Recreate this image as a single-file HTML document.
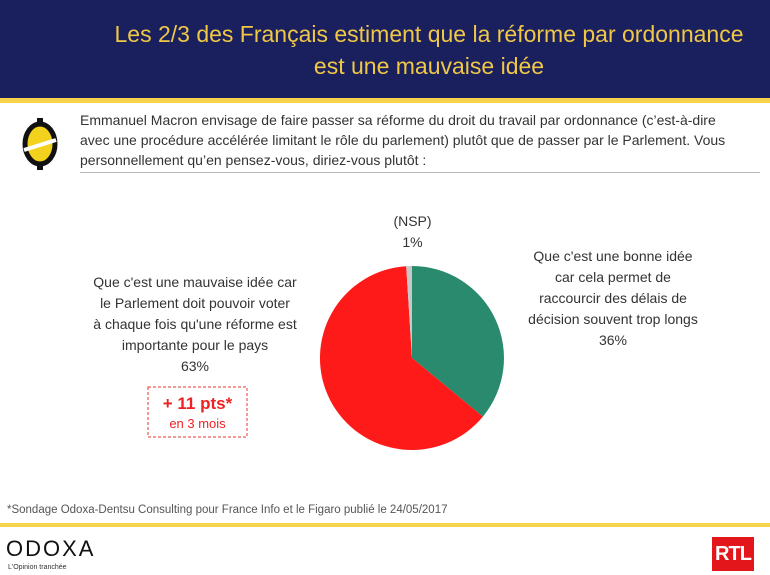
<!DOCTYPE html>
<html><head><meta charset="utf-8"><style>
body{margin:0;width:770px;height:575px;background:#fff;font-family:"Liberation Sans",sans-serif;position:relative;overflow:hidden}
.hdr{position:absolute;left:0;top:0;width:770px;height:98px;background:#1a1f5e}
.yl{position:absolute;left:0;width:770px;background:#f6d34c}
.title{position:absolute;left:84px;width:690px;top:18px;text-align:center;color:#f0c846;font-size:23px;line-height:32px}
.q{position:absolute;left:80px;top:110px;width:660px;font-size:14px;line-height:20px;color:#333}
.t{position:absolute;font-size:14px;line-height:21px;color:#333;text-align:center}
</style></head><body>
<div class="hdr"></div>
<div class="yl" style="top:98px;height:5px"></div>
<div class="title">Les 2/3 des Français estiment que la réforme par ordonnance<br>est une mauvaise idée</div>
<svg style="position:absolute;left:20px;top:118px" width="40" height="52" viewBox="0 0 40 52">
<rect x="17" y="0" width="6" height="6" fill="#111"/><rect x="17" y="46" width="6" height="6" fill="#111"/>
<ellipse cx="20" cy="26" rx="15" ry="20" fill="#f3d21e" stroke="#111" stroke-width="5"/>
<line x1="4" y1="32" x2="36" y2="22" stroke="#fff" stroke-width="4"/></svg>
<div class="q">Emmanuel Macron envisage de faire passer sa réforme du droit du travail par ordonnance (c’est-à-dire avec une procédure accélérée limitant le rôle du parlement) plutôt que de passer par le Parlement. Vous personnellement qu’en pensez-vous, diriez-vous plutôt :</div>
<div style="position:absolute;left:80px;top:172px;width:680px;height:1px;background:#bbb"></div>
<svg style="position:absolute;left:0;top:0" width="770" height="575">
<path d="M412,358 L412,266 A92,92 0 0 1 482.9,416.6 Z" fill="#2a8a6e"/>
<path d="M412,358 L482.9,416.6 A92,92 0 1 1 406.2,266.2 Z" fill="#ff1a1a"/>
<path d="M412,358 L406.2,266.2 A92,92 0 0 1 412,266 Z" fill="#c8c8c8"/>
<rect x="148" y="387" width="99" height="50" fill="none" stroke="#e33" stroke-dasharray="3,2"/>
</svg>
<div class="t" style="left:375px;top:211px;width:75px">(NSP)<br>1%</div>
<div class="t" style="left:503px;top:246px;width:220px">Que c'est une bonne idée<br>car cela permet de<br>raccourcir des délais de<br>décision souvent trop longs<br>36%</div>
<div class="t" style="left:65px;top:272px;width:260px">Que c'est une mauvaise idée car<br>le Parlement doit pouvoir voter<br>à chaque fois qu'une réforme est<br>importante pour le pays<br>63%</div>
<div style="position:absolute;left:148px;top:394px;width:99px;text-align:center;color:#e22;font-weight:bold;font-size:17px">+ 11 pts*</div>
<div style="position:absolute;left:148px;top:416px;width:99px;text-align:center;color:#e22;font-size:13px">en 3 mois</div>
<div style="position:absolute;left:7px;top:504px;font-size:11.5px;color:#555">*Sondage Odoxa-Dentsu Consulting pour France Info et le Figaro publié le 24/05/2017</div>
<div class="yl" style="top:523px;height:4px"></div>
<div style="position:absolute;left:6px;top:536px;font-size:22px;letter-spacing:2px;color:#111">ODOXA</div>
<div style="position:absolute;left:8px;top:564px;font-size:7px;color:#333">L'Opinion tranchée</div>
<div style="position:absolute;left:712px;top:537px;width:42px;height:34px;background:#e3161b;color:#fff;font-weight:bold;font-size:20px;text-align:center;line-height:34px;letter-spacing:-1px">RTL</div>
</body></html>
